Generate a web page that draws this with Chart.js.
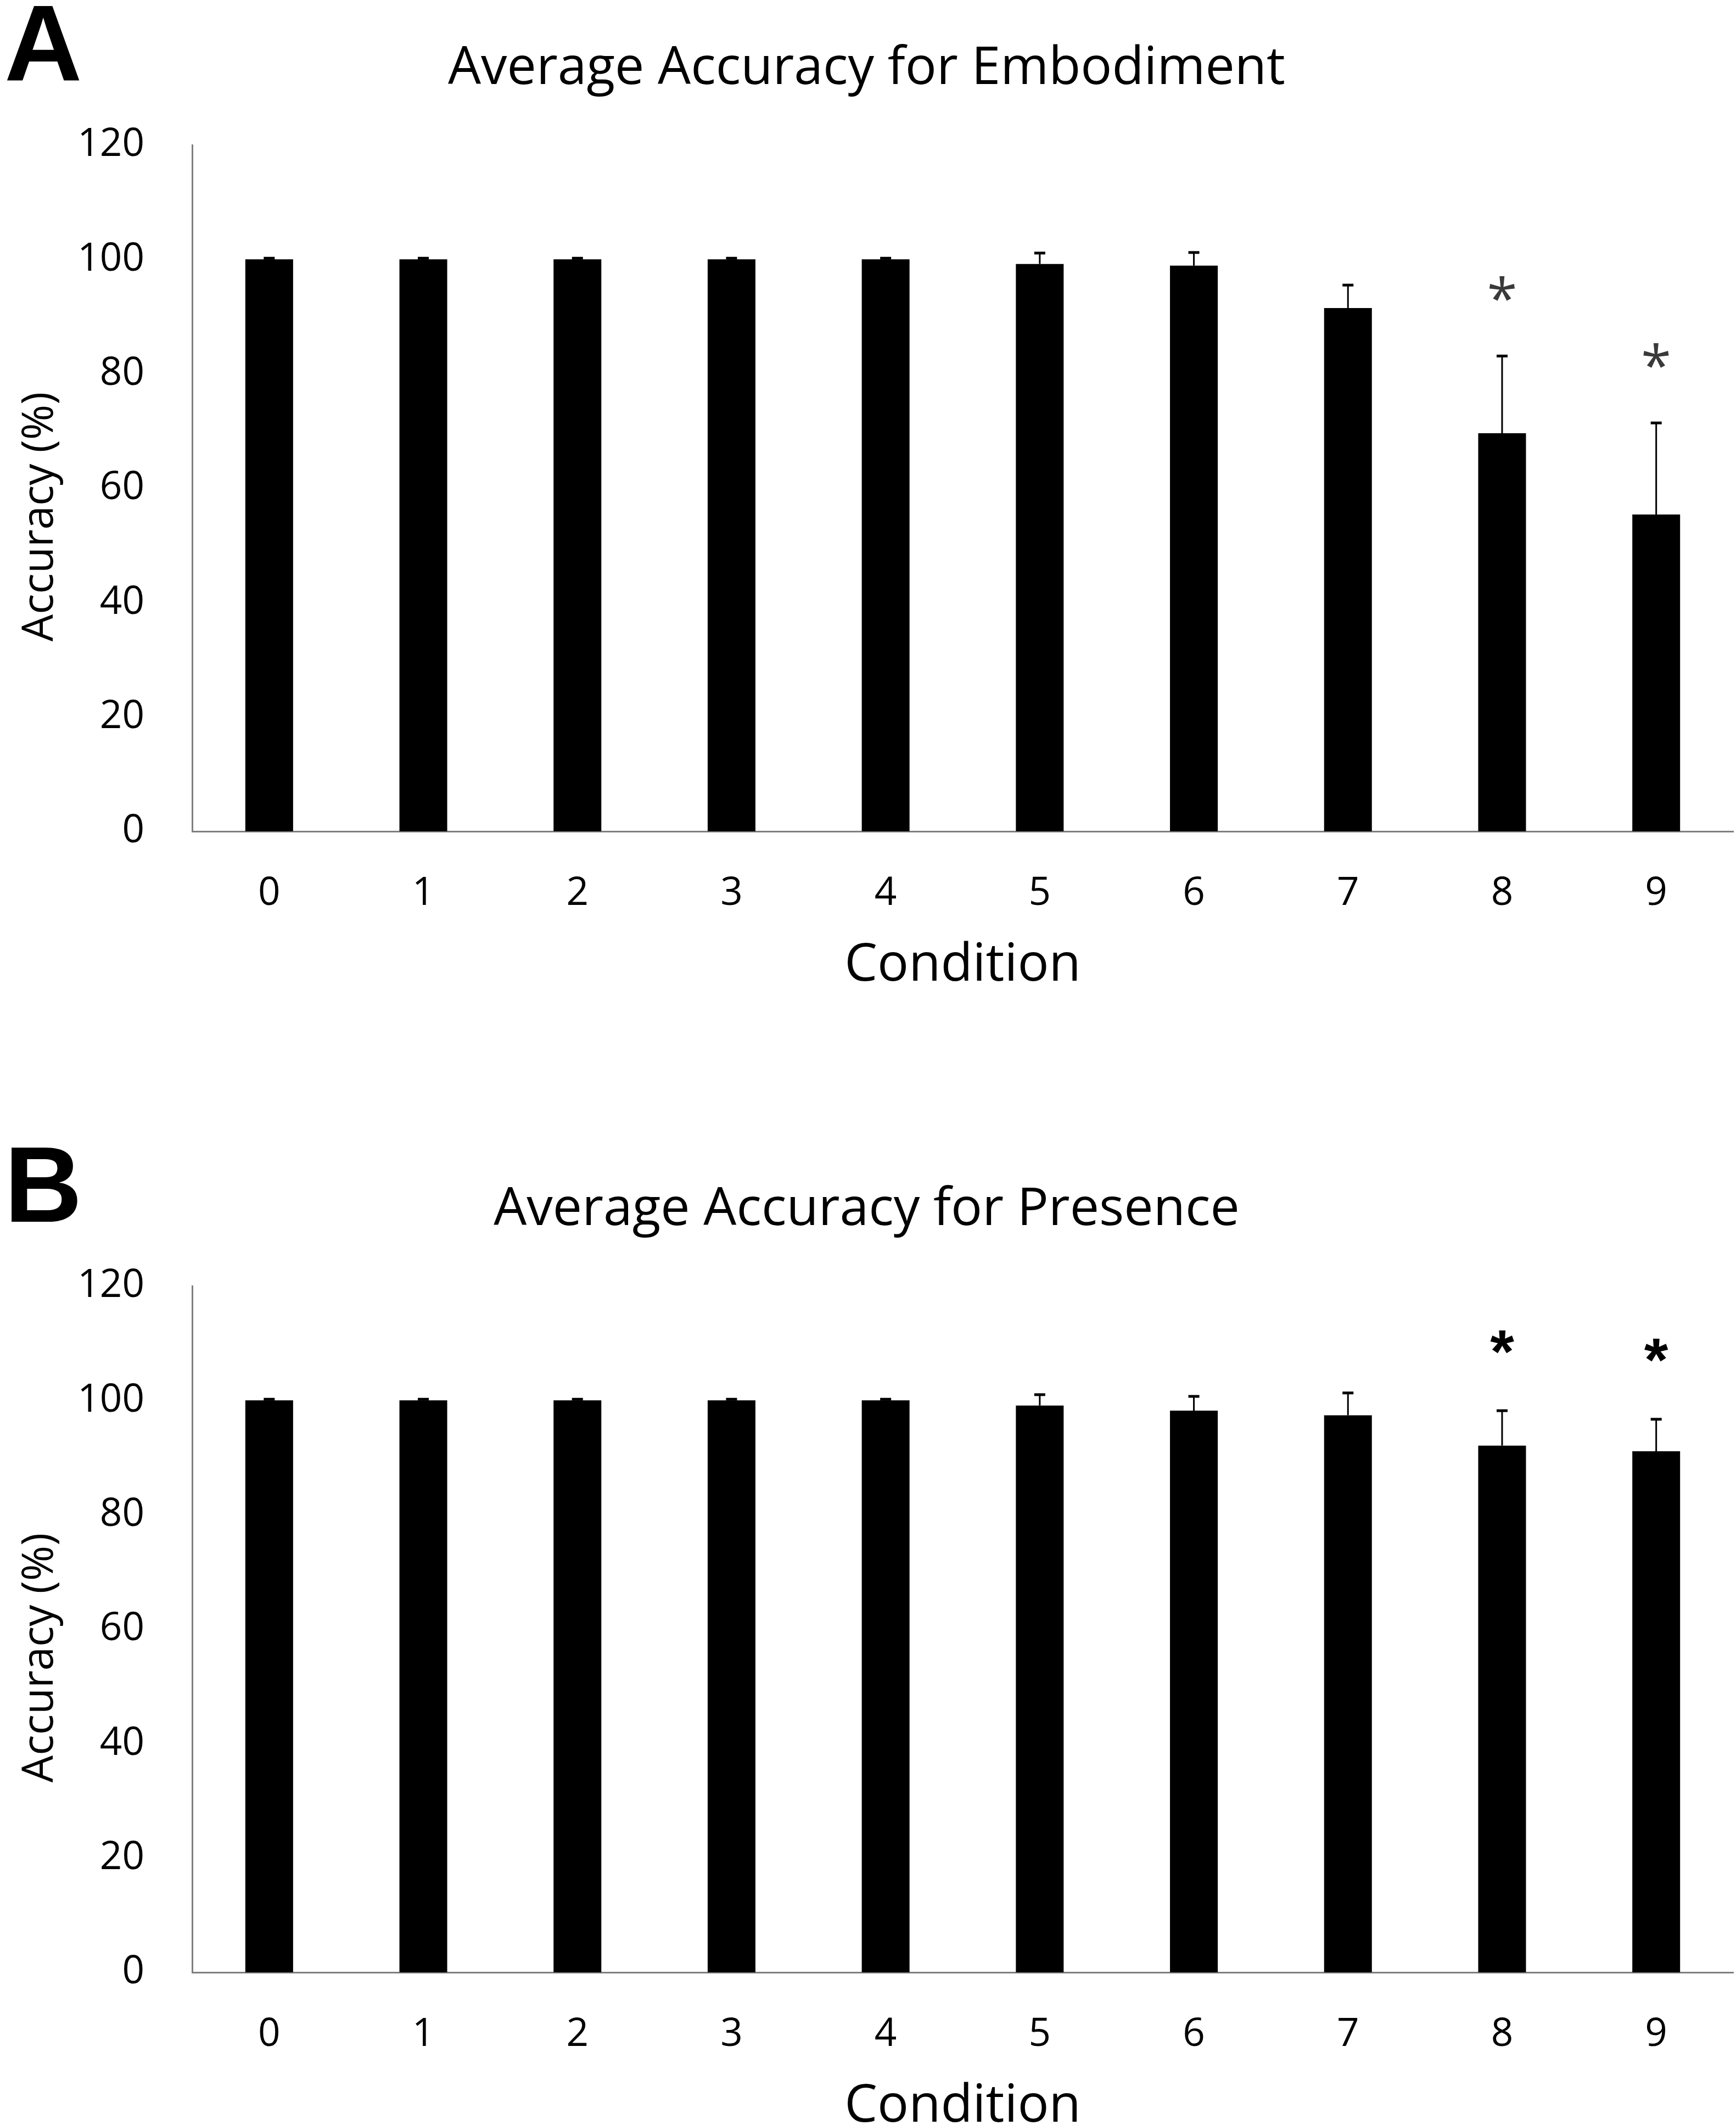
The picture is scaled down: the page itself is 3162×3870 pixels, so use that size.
<!DOCTYPE html>
<html>
<head>
<meta charset="utf-8">
<title>Average Accuracy for Embodiment / Presence</title>
<script src="https://cdn.jsdelivr.net/npm/chart.js@4.4.1/dist/chart.umd.min.js"></script>
<style>
  html, body { margin: 0; padding: 0; background: #fff; }
  #page { position: relative; width: 3162px; height: 3870px; overflow: hidden; background: #fff; }
  .panel { position: absolute; left: 0; width: 3162px; height: 2078px; }
  #panelA { top: 0; }
  #panelB { top: 2078px; }
  canvas { display: block; width: 3162px; height: 2078px; }
</style>
</head>
<body>
<div id="page">
  <div class="panel" id="panelA"><canvas id="embodimentChart" width="3162" height="2078"></canvas></div>
  <div class="panel" id="panelB"><canvas id="presenceChart" width="3162" height="2078"></canvas></div>
</div>
<script>
// 데이터
const conditions = ['0', '1', '2', '3', '4', '5', '6', '7', '8', '9'];

const embodimentMean = [100, 100, 100, 100, 100, 99.2, 98.9, 91.5, 69.6, 55.4];
const embodimentErr  = [0.2, 0.2, 0.2, 0.2, 0.2, 1.9, 2.3, 4.0, 13.5, 16.0];
const embodimentSig  = ['', '', '', '', '', '', '', '', '*', '*'];

const presenceMean = [100, 100, 100, 100, 100, 99.1, 98.2, 97.4, 92.1, 91.1];
const presenceErr  = [0.2, 0.2, 0.2, 0.2, 0.2, 1.9, 2.5, 3.9, 6.1, 5.6];
const presenceSig  = ['', '', '', '', '', '', '', '', '*', '*'];

const yMin = 0;
const yMax = 120;
const yStep = 20;

// error bars, significance marks, panel letter, y label
const extrasPlugin = {
    id: 'extras',
    afterDatasetsDraw(chart, args, opts) {
        const ctx = chart.ctx;
        const yScale = chart.scales.y;
        const meta = chart.getDatasetMeta(0);
        const means = chart.data.datasets[0].data;
        ctx.save();
        ctx.strokeStyle = '#000';
        opts.errors.forEach(function(err, i) {
            const bar = meta.data[i];
            const yBase = yScale.getPixelForValue(means[i]);
            const yTop = yScale.getPixelForValue(means[i] + err);
            ctx.lineWidth = 3;
            ctx.beginPath();
            ctx.moveTo(bar.x, yBase);
            ctx.lineTo(bar.x, yTop);
            ctx.stroke();
            ctx.lineWidth = 5;
            ctx.beginPath();
            ctx.moveTo(bar.x - 10, yTop);
            ctx.lineTo(bar.x + 10, yTop);
            ctx.stroke();

            if (opts.marks[i]) {
                ctx.fillStyle = opts.markColor;
                ctx.font = opts.markFont;
                ctx.textAlign = 'center';
                ctx.textBaseline = 'alphabetic';
                ctx.fillText(opts.marks[i], bar.x, yTop - opts.markOffset + opts.markSize * 0.54);
            }
        });
        ctx.restore();
    },
    afterDraw(chart, args, opts) {
        const ctx = chart.ctx;
        const area = chart.chartArea;
        ctx.save();
        // panel letter
        ctx.fillStyle = '#000';
        ctx.font = 'bold 196px "Liberation Sans", Arial, sans-serif';
        ctx.textAlign = 'left';
        ctx.textBaseline = 'alphabetic';
        ctx.fillText(opts.letter, 8, 147);
        // y axis label
        ctx.translate(74, (area.top + area.bottom) / 2 + 52);
        ctx.rotate(-Math.PI / 2);
        ctx.font = '78px "Open Sans", sans-serif';
        ctx.textAlign = 'center';
        ctx.textBaseline = 'middle';
        ctx.fillText(opts.yLabel, 0, 0);
        ctx.restore();
    }
};

const tickFont = { family: 'Open Sans', size: 71 };
const axisBorder = { display: true, color: '#7f7f7f', width: 3 };

function makeChart(canvasId, title, letter, means, errors, marks, mark) {
    const ctx = document.getElementById(canvasId).getContext('2d');
    return new Chart(ctx, {
        type: 'bar',
        data: {
            labels: conditions,
            datasets: [{
                data: means,
                backgroundColor: '#000',
                borderWidth: 0,
                barPercentage: 0.31,
                categoryPercentage: 1.0
            }]
        },
        options: {
            responsive: false,
            animation: false,
            devicePixelRatio: 1,
            layout: { padding: { left: 0, right: 5, top: 0, bottom: 0 } },
            plugins: {
                legend: { display: false },
                tooltip: { enabled: false },
                title: {
                    display: true,
                    text: title,
                    color: '#000',
                    font: { family: 'Open Sans', size: 95, weight: 'normal', lineHeight: 1.2 },
                    padding: { top: 69, bottom: 81 }
                },
                extras: {
                    errors: errors,
                    marks: marks,
                    markColor: mark.color,
                    markFont: mark.font,
                    markSize: mark.size,
                    markOffset: mark.offset,
                    letter: letter,
                    yLabel: 'Accuracy (%)'
                }
            },
            scales: {
                x: {
                    grid: { display: false },
                    border: axisBorder,
                    ticks: { color: '#000', padding: 63, font: tickFont, maxRotation: 0 },
                    title: {
                        display: true,
                        text: 'Condition',
                        color: '#000',
                        font: { family: 'Open Sans', size: 95, lineHeight: 1.2 },
                        padding: { top: 0, bottom: 262 }
                    },
                    afterFit: function(scale) { scale.height = 564; }
                },
                y: {
                    min: yMin,
                    max: yMax,
                    grid: { display: false },
                    border: axisBorder,
                    ticks: { stepSize: yStep, color: '#000', padding: 79, font: tickFont },
                    afterFit: function(scale) { scale.width = 350; }
                }
            }
        },
        plugins: [extrasPlugin]
    });
}

function createCharts() {
    makeChart('embodimentChart', 'Average Accuracy for Embodiment', 'A',
        embodimentMean, embodimentErr, embodimentSig,
        { color: '#3a3a3a', font: '100px "Open Sans", sans-serif', size: 100, offset: 122 });
    makeChart('presenceChart', 'Average Accuracy for Presence', 'B',
        presenceMean, presenceErr, presenceSig,
        { color: '#000', font: 'bold 112px "Liberation Sans", Arial, sans-serif', size: 112, offset: 130 });
}

const fontLoads = [
    document.fonts.load('95px "Open Sans"'),
    document.fonts.load('bold 196px "Liberation Sans"')
];
Promise.all(fontLoads).then(createCharts, createCharts);
</script>
</body>
</html>
